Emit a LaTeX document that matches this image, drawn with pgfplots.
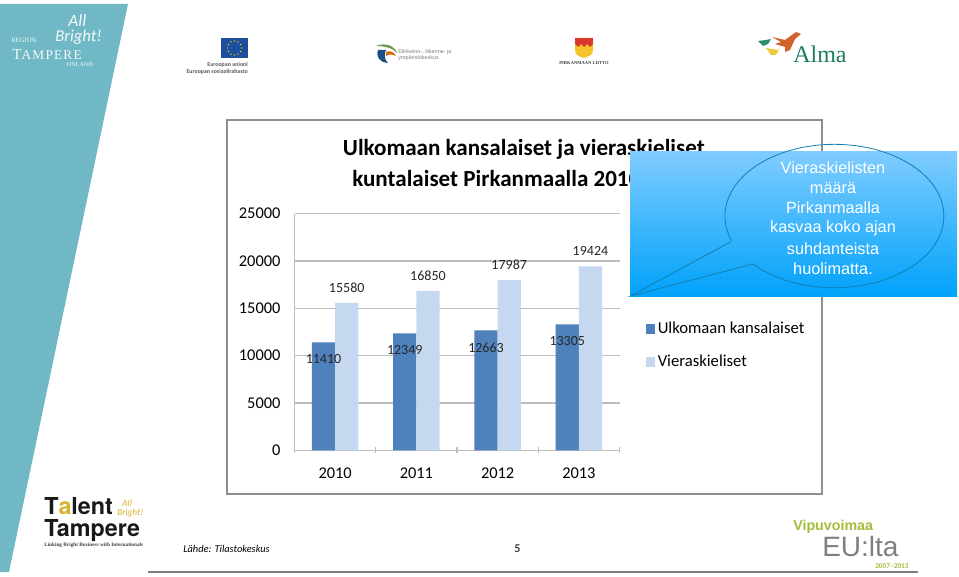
\documentclass[border=0pt]{standalone}
\usepackage{fontspec}
\usepackage{pgfplots}
\pgfplotsset{compat=1.18}
\setmainfont{Carlito}
\newfontfamily\lib{Liberation Sans}
\newfontfamily\tg{TeX Gyre Heros}
\newfontfamily\serif{Liberation Serif}
\newfontfamily\serifsp[LetterSpace=9]{Liberation Serif}
\definecolor{tealband}{HTML}{70B8C5}
\definecolor{dkbar}{HTML}{4F81BD}
\definecolor{ltbar}{HTML}{C6D8EF}
\definecolor{gridg}{HTML}{BDBDBD}
\definecolor{framg}{HTML}{8E8E8E}
\definecolor{calltop}{HTML}{80CCFF}
\definecolor{callbot}{HTML}{00A2FA}
\definecolor{callline}{HTML}{1080B0}
\definecolor{eublue}{HTML}{1F4E9C}
\definecolor{elygreen}{HTML}{6E9A50}
\definecolor{elyblue}{HTML}{1C4F86}
\definecolor{shieldy}{HTML}{F5C52E}
\definecolor{shieldr}{HTML}{D8392B}
\definecolor{almao}{HTML}{D2622A}
\definecolor{almag}{HTML}{2E8B6E}
\definecolor{almay}{HTML}{EFC93C}
\definecolor{almat}{HTML}{1E7D62}
\definecolor{gold}{HTML}{D9B32E}
\definecolor{vipu}{HTML}{A3BE3C}
\newcommand\fs[1]{\fontsize{#1}{#1}\selectfont}
\begin{document}
\begin{tikzpicture}[x=0.75pt,y=-0.75pt]
\path[fill=white] (0,0) rectangle (959,577);
% teal band
\fill[tealband] (0,4) -- (128,4) -- (9,572) -- (0,572) -- cycle;
% chart frame
\draw[framg,line width=1.5pt,fill=white] (227,120) rectangle (822,494);
% chart
\begin{axis}[
  at={(220.875pt,-337.725pt)}, anchor=south west,
  scale only axis, width=243.75pt, height=177.45pt,
  ybar, bar width=17.4pt, bar shift=0pt,
  xmin=-0.5, xmax=3.5, ymin=0, ymax=25000,
  axis x line=bottom, axis y line=left,
  axis line style={gridg,line width=1.1pt,-},
  xtick={0,1,2,3}, xticklabels={2010,2011,2012,2013},
  ytick={0,5000,10000,15000,20000,25000},
  scaled y ticks=false,
  ymajorgrids, grid style={gridg,line width=1.1pt},
  major tick length=0pt,
  extra x ticks={-0.5,0.5,1.5,2.5,3.5}, extra x tick labels={},
  extra x tick style={major tick length=4.5pt,tick style={gridg,line width=0.8pt},grid=none},
  tick style={gridg,line width=1pt},
  /pgf/number format/assume math mode=true,
  /pgf/number format/1000 sep={},
  yticklabel style={font=\fs{12.3},xshift=-7pt},
  xticklabel style={font=\fs{12.3},yshift=-10pt},
  legend style={at={(1.08,0.443)},anchor=west,draw=none,fill=none,font=\fs{12.5},row sep=10.4pt,inner sep=0pt},
  legend cell align=left,
  clip=false,
  nodes near coords,
  nodes near coords align={center},
  every node near coord/.append style={font=\fs{10.5},text=black!85,anchor=center},
]
\addplot[ybar,fill=dkbar,draw=none,bar shift=-8.7pt,
  every node near coord/.append style={yshift=-12.7pt},
  area legend,
  legend image code/.code={\fill[dkbar] (0cm,-4pt) rectangle (7pt,4pt);}]
  coordinates {(0,11410)(1,12349)(2,12663)(3,13305)};
\addplot[ybar,fill=ltbar,draw=none,bar shift=8.7pt,
  every node near coord/.append style={yshift=11.3pt},
  area legend,
  legend image code/.code={\fill[ltbar] (0cm,-4pt) rectangle (7pt,4pt);}]
  coordinates {(0,15580)(1,16850)(2,17987)(3,19424)};
\legend{Ulkomaan kansalaiset,Vieraskieliset}
\end{axis}
% title
\node[anchor=center,font=\bfseries\fs{17.3}] at (523.8,149) {Ulkomaan kansalaiset ja vieraskieliset};
\node[anchor=west,font=\bfseries\fs{17.3},inner sep=0pt] at (352,178) {kuntalaiset Pirkanmaalla 2010-2013};
% callout
\shade[top color=calltop,bottom color=callbot] (630.4,151.3) rectangle (957,296);
\draw[callline,line width=0.6pt] (731,241.7) -- (630.4,296) -- (753,264)
  arc[start angle=222,end angle=560,x radius=82.125pt,y radius=53.775pt];
\begin{scope}[every node/.style={text=white,font=\lib\fs{12.2},anchor=center,inner sep=0pt}]
\node at (833,167.5) {Vieraskielisten};
\node at (833,187.7) {määrä};
\node at (833,208) {Pirkanmaalla};
\node at (833,228.2) {kasvaa koko ajan};
\node at (833,248.4) {suhdanteista};
\node at (833,268.5) {huolimatta.};
\end{scope}
% Region Tampere logo
\begin{scope}[every node/.style={text=white!92!tealband,inner sep=0pt,anchor=west}]
\node[font=\serif\fs{5}] at (11,40.5) {REGION};
\node[font=\serifsp\fs{11.5}] at (12,54) {T\fs{10}AMPERE};
\node[font=\serif\fs{4.5}] at (66,64.5) {FINLAND};
\node[font=\itshape\fs{13}] at (68,20) {All};
\node[font=\itshape\fs{12.5}] at (55,37) {Bright!};
\end{scope}
% EU
\fill[eublue] (221,38) rectangle (248,58);
\foreach \a in {0,30,...,330}{\fill[yellow!90!orange] (234.5,48) ++(\a:7) circle (0.7);}
\node[anchor=east,inner sep=0pt,font=\bfseries\fs{4.4},text=black!65] at (248,64.5) {Euroopan unioni};
\node[anchor=east,inner sep=0pt,font=\bfseries\fs{4.4},text=black!65] at (248,72) {Euroopan sosiaalirahasto};
% ELY
\fill[elygreen] (376,46) .. controls (385,42) and (395,46) .. (397,53) .. controls (393,48) and (384,46) .. (376,46);
\fill[elyblue] (378,50) .. controls (376,57) and (379,62) .. (388,63) .. controls (384,59) and (384,54) .. (386,50) -- cycle;
\fill[orange!85!black] (386,52) .. controls (390,50) and (394,52) .. (396,56) .. controls (392,54) and (389,54) .. (386,56) -- cycle;
\node[anchor=west,inner sep=0pt,font=\lib\fs{4.1},text=black!50] at (398,52) {Elinkeino-, liikenne- ja};
\node[anchor=west,inner sep=0pt,font=\lib\fs{4.1},text=black!50] at (398,58.5) {ympäristökeskus};
% Pirkanmaan liitto
\fill[shieldy] (575,38) -- (593,38) -- (593,51) .. controls (593,56) and (586,57) .. (584,58) .. controls (582,57) and (575,56) .. (575,51) -- cycle;
\fill[shieldr] (575,38) rectangle (593,44);
\fill[shieldr] (575,44) -- (578,47) -- (581,44) -- (584,47) -- (587,44) -- (590,47) -- (593,44) -- cycle;
\node[inner sep=0pt,font=\serif\bfseries\fs{3.4},text=black!75] at (584,63.5) {PIRKANMAAN LIITTO};
% Alma
\fill[almao] (772,37) -- (785,40) -- (796,32) -- (801,34) -- (795,39) -- (790,50) -- (785,52) -- (785,47) -- (775,44) -- (781,42) -- cycle;
\fill[almag] (758,41) -- (766,40) -- (771,39) -- (768,44) -- (763,46) -- cycle;
\fill[almay] (766,48) -- (778,50) -- (780,47) -- (776,55) -- (771,55) -- cycle;
\node[anchor=west,inner sep=0pt,font=\serif\fs{18},text=almat] at (793,54) {Alma};
% Talent Tampere
\node[anchor=west,inner sep=0pt,font=\tg\bfseries\fs{17.5},text=black!90] at (44,506.5) {T\textcolor{gold}{a}lent};
\node[anchor=west,inner sep=0pt,font=\tg\bfseries\fs{17.5},text=black!90] at (44,531) {Tampere};
\node[anchor=west,inner sep=0pt,font=\serif\bfseries\fs{3.95},text=black!75] at (44,545.5) {Linking Bright Business with Internationals};
\node[anchor=west,inner sep=0pt,font=\itshape\fs{7},text=gold] at (122,503) {All};
\node[anchor=west,inner sep=0pt,font=\itshape\fs{7},text=gold] at (117,513) {Bright!};
% footer
\node[anchor=west,inner sep=0pt,font=\itshape\fs{7.8}] at (183,548.5) {Lähde: Tilastokeskus};
\node[inner sep=0pt,font=\bfseries\fs{9},text=black!75] at (517.5,548.5) {5};
\draw[black!50,line width=1.2pt] (148,572) -- (918,572);
% Vipuvoimaa
\node[anchor=west,inner sep=0pt,font=\lib\bfseries\fs{10.7},text=vipu] at (793,526.5) {Vipuvoimaa};
\node[anchor=west,inner sep=0pt,font=\lib\fs{21},text=black!50] at (822,546.5) {EU:lta};
\node[anchor=west,inner sep=0pt,font=\bfseries\fs{5.5},text=vipu] at (875,566) {2007--2013};
\end{tikzpicture}
\end{document}
